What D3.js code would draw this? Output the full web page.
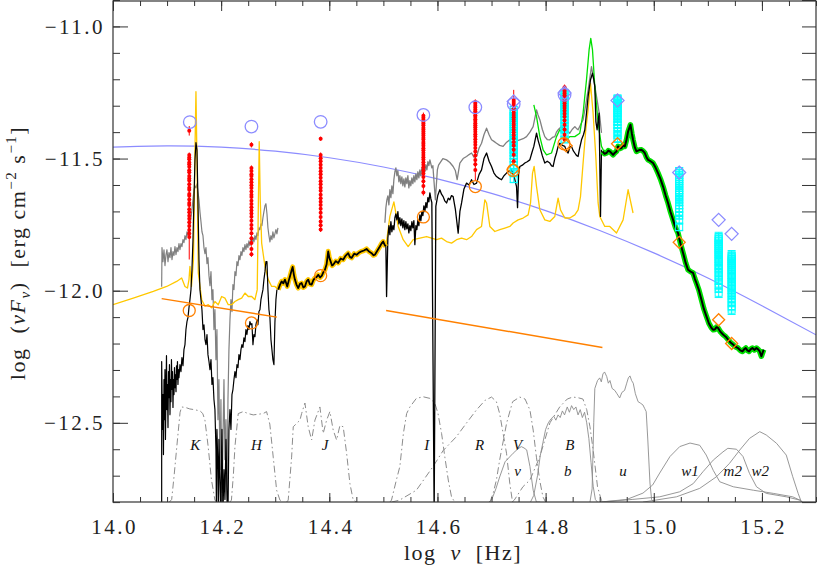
<!DOCTYPE html>
<html><head><meta charset="utf-8">
<script src="https://cdn.jsdelivr.net/npm/d3@7"></script>
<style>body{margin:0;background:#fff;}svg{display:block;}</style>
</head><body>
<svg id="c" width="817" height="568"></svg>
<script>
// ---------------- DATA ----------------
const xTickValues = [14.0,14.2,14.4,14.6,14.8,15.0,15.2];
const yTickValues = [-12.5,-12.0,-11.5,-11.0];

// log-parabola model (blue)
const blueModel = [[14.0,-11.457],[14.1,-11.452],[14.2,-11.457],[14.3,-11.472],[14.4,-11.497],[14.5,-11.532],[14.6,-11.577],[14.7,-11.632],[14.8,-11.697],[14.9,-11.772],[15.0,-11.857],[15.1,-11.952],[15.2,-12.057],[15.3,-12.167]];

// power-law fits (orange)
const orangeFitNIR = [[14.090,-12.030],[14.303,-12.100]];
const orangeFitOpt = [[14.505,-12.075],[14.905,-12.215]];

// NIR spectrum (grey)
const greyNIR = [[14.090,-11.985],[14.0906,-11.837],[14.0924,-11.890],[14.0943,-11.845],[14.0961,-11.905],[14.0980,-11.864],[14.0998,-11.845],[14.1017,-11.890],[14.1035,-11.856],[14.1054,-11.875],[14.1072,-11.837],[14.1091,-11.883],[14.1109,-11.852],[14.1128,-11.867],[14.1146,-11.833],[14.1165,-11.864],[14.1183,-11.837],[14.1201,-11.852],[14.1220,-11.822],[14.1238,-11.845],[14.1257,-11.822],[14.1275,-11.833],[14.1294,-11.807],[14.1312,-11.818],[14.1331,-11.792],[14.1349,-11.807],[14.1368,-11.777],[14.1386,-11.792],[14.1405,-11.762],[14.1423,-11.754],[14.1442,-11.724],[14.1460,-11.694],[14.1479,-11.656],[14.1497,-11.618],[14.1516,-11.603],[14.1534,-11.611],[14.1553,-11.596],[14.1571,-11.626],[14.1590,-11.656],[14.1608,-11.701],[14.1627,-11.739],[14.1645,-11.777],[14.1664,-11.792],[14.1682,-11.837],[14.1701,-11.860],[14.1719,-11.837],[14.1738,-11.898],[14.1756,-11.875],[14.1775,-11.943],[14.1793,-11.981],[14.1812,-11.928],[14.1830,-12.034],[14.1848,-11.996],[14.1867,-12.147],[14.1885,-12.072],[14.1904,-12.261],[14.1922,-12.147],[14.1941,-12.488],[14.1959,-12.336],[14.1978,-12.677],[14.1996,-12.412],[14.2015,-12.85],[14.2033,-12.563],[14.2052,-12.336],[14.2070,-12.639],[14.2089,-12.488],[14.2107,-12.85],[14.2126,-12.412],[14.2144,-12.223],[14.2163,-12.110],[14.2181,-12.034],[14.2200,-12.079],[14.2218,-11.977],[14.2237,-11.996],[14.2255,-11.928],[14.2274,-11.943],[14.2292,-11.890],[14.2311,-11.905],[14.2329,-11.867],[14.2348,-11.883],[14.2366,-11.852],[14.2384,-11.867],[14.2403,-11.837],[14.2421,-11.852],[14.2440,-11.826],[14.2458,-11.845],[14.2477,-11.822],[14.2495,-11.837],[14.2514,-11.811],[14.2532,-11.830],[14.2551,-11.807],[14.2569,-11.822],[14.2588,-11.800],[14.2606,-11.815],[14.2625,-11.792],[14.2643,-11.807],[14.2662,-11.781],[14.2680,-11.792],[14.2699,-11.762],[14.2717,-11.769],[14.2736,-11.747],[14.2754,-11.754],[14.2773,-11.724],[14.2791,-11.701],[14.2810,-11.679],[14.2828,-11.671],[14.2847,-11.709],[14.2865,-11.762],[14.2884,-11.792],[14.2902,-11.815],[14.2921,-11.792],[14.2939,-11.807],[14.2957,-11.777],[14.2976,-11.800],[14.2994,-11.785],[14.3013,-11.769],[14.3031,-11.785],[14.3050,-11.762]];

// NIR spectrum (black)
const blackNIR = [[14.090,-12.85],[14.090,-12.268],[14.0915,-12.525],[14.0924,-12.393],[14.0933,-12.620],[14.0943,-12.336],[14.0952,-12.488],[14.0961,-12.299],[14.0970,-12.563],[14.0980,-12.382],[14.0989,-12.246],[14.0998,-12.450],[14.1007,-12.355],[14.1017,-12.518],[14.1026,-12.306],[14.1035,-12.405],[14.1044,-12.280],[14.1054,-12.469],[14.1063,-12.336],[14.1072,-12.420],[14.1081,-12.261],[14.1091,-12.374],[14.1100,-12.306],[14.1109,-12.442],[14.1118,-12.336],[14.1128,-12.393],[14.1137,-12.291],[14.1146,-12.367],[14.1155,-12.318],[14.1165,-12.382],[14.1174,-12.284],[14.1183,-12.336],[14.1192,-12.268],[14.1201,-12.355],[14.1211,-12.299],[14.1220,-12.329],[14.1238,-12.280],[14.1257,-12.306],[14.1275,-12.253],[14.1294,-12.284],[14.1312,-12.223],[14.1331,-12.204],[14.1349,-12.147],[14.1368,-12.117],[14.1386,-12.102],[14.1405,-12.064],[14.1423,-12.034],[14.1442,-11.996],[14.1460,-11.921],[14.1479,-11.807],[14.1497,-11.656],[14.1516,-11.505],[14.1534,-11.440],[14.1553,-11.467],[14.1571,-11.656],[14.1590,-11.883],[14.1608,-11.996],[14.1627,-12.034],[14.1645,-12.072],[14.1664,-12.147],[14.1682,-12.129],[14.1701,-12.185],[14.1719,-12.204],[14.1738,-12.166],[14.1756,-12.242],[14.1775,-12.268],[14.1793,-12.299],[14.1812,-12.261],[14.1830,-12.355],[14.1848,-12.329],[14.1867,-12.412],[14.1885,-12.450],[14.1904,-12.601],[14.1913,-12.85],[14.1922,-12.525],[14.1941,-12.677],[14.1950,-12.85],[14.1959,-12.563],[14.1978,-12.715],[14.1996,-12.85],[14.2006,-12.639],[14.2015,-12.525],[14.2033,-12.85],[14.2052,-12.677],[14.2070,-12.790],[14.2089,-12.563],[14.2107,-12.752],[14.2126,-12.85],[14.2144,-12.525],[14.2163,-12.450],[14.2181,-12.525],[14.2200,-12.393],[14.2218,-12.374],[14.2237,-12.336],[14.2255,-12.306],[14.2274,-12.329],[14.2292,-12.280],[14.2311,-12.291],[14.2329,-12.242],[14.2348,-12.261],[14.2366,-12.223],[14.2384,-12.204],[14.2403,-12.215],[14.2421,-12.178],[14.2440,-12.193],[14.2458,-12.147],[14.2477,-12.166],[14.2495,-12.132],[14.2514,-12.147],[14.2532,-12.117],[14.2551,-12.129],[14.2569,-12.125],[14.2588,-12.204],[14.2606,-12.166],[14.2625,-12.174],[14.2643,-12.129],[14.2662,-12.110],[14.2680,-12.129],[14.2699,-12.079],[14.2717,-12.072],[14.2736,-12.034],[14.2754,-12.015],[14.2773,-11.996],[14.2791,-11.958],[14.2810,-11.928],[14.2828,-11.890],[14.2847,-11.890],[14.2865,-11.996],[14.2884,-12.072],[14.2902,-12.102],[14.2921,-12.185],[14.2939,-12.223],[14.2957,-12.261],[14.2976,-12.280],[14.2994,-12.121],[14.3013,-12.034],[14.3031,-11.996]];

// overlap segment between NIR and optical (black over yellow)
const bridgeSpec = [[14.3055,-11.996],[14.3087,-11.978],[14.3118,-11.965],[14.3150,-11.972],[14.3179,-11.958],[14.3200,-11.970],[14.3222,-11.984],[14.3250,-11.962],[14.3272,-11.946],[14.3300,-11.925],[14.3322,-11.910],[14.3345,-11.940],[14.3364,-11.958],[14.3395,-11.978],[14.3425,-11.990],[14.3455,-11.975],[14.3488,-11.971],[14.3520,-11.988],[14.3549,-11.984],[14.3580,-11.965],[14.3610,-11.958],[14.3640,-11.975],[14.3673,-11.977],[14.3705,-11.960],[14.3734,-11.952],[14.3765,-11.948],[14.3795,-11.940],[14.3830,-11.950],[14.3863,-11.943],[14.3890,-11.930],[14.3919,-11.921],[14.3950,-11.900],[14.3980,-11.851],[14.4000,-11.875],[14.4024,-11.889],[14.4050,-11.905],[14.4072,-11.902],[14.4120,-11.888],[14.4165,-11.895],[14.4210,-11.878],[14.4257,-11.883],[14.4300,-11.868],[14.4349,-11.858],[14.4380,-11.872],[14.4412,-11.876],[14.4460,-11.860],[14.4505,-11.864],[14.4550,-11.856],[14.4597,-11.851],[14.4640,-11.848],[14.4689,-11.842],[14.4735,-11.852],[14.4782,-11.858],[14.4815,-11.866],[14.4843,-11.864],[14.4890,-11.848],[14.4935,-11.833],[14.4965,-11.822],[14.4996,-11.814],[14.5020,-11.825],[14.5046,-11.833]];

// optical spectrum (black)
const blackOpt = [[14.5046,-11.833],[14.5059,-12.022],[14.5083,-11.800],[14.5102,-11.754],[14.5120,-11.788],[14.5139,-11.739],[14.5157,-11.777],[14.5176,-11.754],[14.5194,-11.769],[14.5213,-11.724],[14.5231,-11.709],[14.5250,-11.732],[14.5268,-11.701],[14.5287,-11.747],[14.5305,-11.724],[14.5323,-11.754],[14.5342,-11.728],[14.5360,-11.762],[14.5379,-11.735],[14.5397,-11.769],[14.5416,-11.739],[14.5434,-11.766],[14.5453,-11.747],[14.5471,-11.781],[14.5490,-11.754],[14.5508,-11.773],[14.5527,-11.739],[14.5545,-11.762],[14.5564,-11.735],[14.5582,-11.826],[14.5601,-11.754],[14.5619,-11.769],[14.5638,-11.732],[14.5656,-11.754],[14.5675,-11.713],[14.5693,-11.735],[14.5712,-11.701],[14.5730,-11.716],[14.5749,-11.679],[14.5767,-11.701],[14.5786,-11.667],[14.5804,-11.686],[14.5823,-11.648],[14.5841,-11.664],[14.5860,-11.630],[14.5878,-11.652],[14.5896,-11.667],[14.5939,-12.85],[14.5970,-11.681],[14.6005,-11.640],[14.6044,-11.618],[14.6075,-11.635],[14.6105,-11.644],[14.6135,-11.660],[14.6168,-11.668],[14.6200,-11.650],[14.6229,-11.656],[14.6260,-11.640],[14.6290,-11.644],[14.6330,-11.690],[14.6383,-11.782],[14.6415,-11.700],[14.6446,-11.668],[14.6490,-11.615],[14.6538,-11.593],[14.6585,-11.600],[14.6630,-11.580],[14.6675,-11.598],[14.6723,-11.593],[14.6770,-11.560],[14.6815,-11.543],[14.6860,-11.500],[14.6908,-11.479],[14.6955,-11.510],[14.7000,-11.530],[14.7045,-11.555],[14.7092,-11.568],[14.7140,-11.575],[14.7185,-11.580],[14.7230,-11.565],[14.7277,-11.555],[14.7320,-11.548],[14.7370,-11.543],[14.7420,-11.570],[14.7462,-11.606],[14.7481,-11.686],[14.7500,-11.560],[14.7523,-11.530],[14.7570,-11.525],[14.7616,-11.517],[14.7660,-11.512],[14.7708,-11.505],[14.7750,-11.475],[14.7782,-11.454],[14.7832,-11.404],[14.7860,-11.430],[14.7893,-11.454],[14.7940,-11.490],[14.7985,-11.517],[14.8030,-11.510],[14.8078,-11.517],[14.8110,-11.528],[14.8139,-11.530],[14.8170,-11.500],[14.8201,-11.479],[14.8230,-11.455],[14.8262,-11.442],[14.8310,-11.450],[14.8355,-11.454],[14.8385,-11.470],[14.8416,-11.479],[14.8450,-11.456],[14.8479,-11.454],[14.8510,-11.470],[14.8540,-11.479],[14.8570,-11.488],[14.8601,-11.492],[14.8630,-11.460],[14.8664,-11.429],[14.8700,-11.410],[14.8725,-11.391],[14.8760,-11.320],[14.8786,-11.265],[14.8830,-11.202],[14.8867,-11.177],[14.8890,-11.200],[14.8910,-11.228],[14.8930,-11.360],[14.8952,-11.391],[14.8989,-11.328],[14.9015,-11.719],[14.9033,-11.467]];

// optical spectrum (grey)
const greyOpt = [[14.5028,-11.743],[14.5046,-11.686],[14.5065,-11.656],[14.5083,-11.641],[14.5102,-11.675],[14.5120,-11.618],[14.5139,-11.648],[14.5157,-11.603],[14.5176,-11.633],[14.5194,-11.580],[14.5213,-11.550],[14.5231,-11.535],[14.5250,-11.565],[14.5268,-11.546],[14.5287,-11.588],[14.5305,-11.565],[14.5323,-11.595],[14.5342,-11.569],[14.5360,-11.603],[14.5379,-11.577],[14.5397,-11.607],[14.5416,-11.573],[14.5434,-11.595],[14.5453,-11.565],[14.5471,-11.611],[14.5490,-11.584],[14.5508,-11.603],[14.5527,-11.573],[14.5545,-11.595],[14.5564,-11.565],[14.5582,-11.588],[14.5601,-11.558],[14.5619,-11.580],[14.5638,-11.550],[14.5656,-11.573],[14.5675,-11.543],[14.5693,-11.565],[14.5712,-11.535],[14.5730,-11.558],[14.5749,-11.527],[14.5767,-11.550],[14.5786,-11.524],[14.5804,-11.543],[14.5823,-11.512],[14.5841,-11.527],[14.5860,-11.505],[14.5878,-11.520],[14.5896,-11.535],[14.5915,-11.527],[14.5961,-11.656],[14.5998,-11.543],[14.6020,-11.525],[14.6044,-11.517],[14.6100,-11.500],[14.6168,-11.505],[14.6230,-11.515],[14.6290,-11.530],[14.6330,-11.545],[14.6364,-11.580],[14.6414,-11.517],[14.6475,-11.500],[14.6538,-11.492],[14.6585,-11.485],[14.6630,-11.479],[14.6675,-11.495],[14.6723,-11.492],[14.6770,-11.460],[14.6815,-11.442],[14.6860,-11.410],[14.6908,-11.385],[14.6955,-11.410],[14.7000,-11.429],[14.7045,-11.435],[14.7092,-11.442],[14.7150,-11.450],[14.7214,-11.454],[14.7280,-11.438],[14.7338,-11.429],[14.7385,-11.445],[14.7431,-11.442],[14.7480,-11.432],[14.7523,-11.429],[14.7585,-11.425],[14.7647,-11.417],[14.7710,-11.400],[14.7769,-11.379],[14.7832,-11.316],[14.7860,-11.335],[14.7893,-11.353],[14.7940,-11.390],[14.7985,-11.417],[14.8030,-11.428],[14.8078,-11.429],[14.8125,-11.420],[14.8170,-11.417],[14.8200,-11.400],[14.8231,-11.391],[14.8260,-11.385],[14.8294,-11.379],[14.8340,-11.388],[14.8386,-11.391],[14.8420,-11.398],[14.8447,-11.404],[14.8490,-11.390],[14.8540,-11.379],[14.8570,-11.386],[14.8601,-11.391],[14.8650,-11.370],[14.8693,-11.353],[14.8740,-11.300],[14.8786,-11.240],[14.8848,-11.152],[14.8891,-11.202],[14.8941,-11.265],[14.9002,-11.341],[14.9033,-11.403]];

// optical spectrum (green)
const greenOpt = [[14.7782,-11.297],[14.7832,-11.341],[14.7893,-11.417],[14.7954,-11.467],[14.8017,-11.486],[14.8109,-11.479],[14.8201,-11.417],[14.8262,-11.391],[14.8323,-11.404],[14.8386,-11.429],[14.8447,-11.417],[14.8540,-11.417],[14.8632,-11.404],[14.8693,-11.328],[14.8756,-11.202],[14.8804,-11.089],[14.8835,-11.045],[14.8867,-11.089],[14.8910,-11.228],[14.8971,-11.366],[14.9033,-11.454],[14.9094,-11.479]];

// UV grism spectrum (black over green)
const uvSpec = [[14.9052,-11.473],[14.9090,-11.482],[14.9126,-11.479],[14.9160,-11.470],[14.9187,-11.473],[14.9220,-11.480],[14.9248,-11.486],[14.9280,-11.478],[14.9311,-11.473],[14.9340,-11.454],[14.9370,-11.462],[14.9403,-11.460],[14.9430,-11.450],[14.9464,-11.454],[14.9495,-11.430],[14.9525,-11.398],[14.9569,-11.372],[14.9595,-11.405],[14.9617,-11.429],[14.9650,-11.458],[14.9680,-11.473],[14.9730,-11.468],[14.9773,-11.467],[14.9805,-11.472],[14.9834,-11.479],[14.9865,-11.495],[14.9895,-11.505],[14.9940,-11.510],[14.9987,-11.517],[15.0035,-11.535],[15.0079,-11.555],[15.0125,-11.578],[15.0172,-11.606],[15.0220,-11.640],[15.0264,-11.668],[15.0310,-11.702],[15.0357,-11.732],[15.0400,-11.760],[15.0449,-11.782],[15.0495,-11.822],[15.0542,-11.857],[15.0590,-11.895],[15.0634,-11.921],[15.0680,-11.928],[15.0727,-11.933],[15.0760,-11.955],[15.0789,-11.971],[15.0835,-11.998],[15.0882,-12.034],[15.0925,-12.068],[15.0974,-12.097],[15.1020,-12.124],[15.1067,-12.141],[15.1100,-12.148],[15.1128,-12.147],[15.1160,-12.138],[15.1189,-12.141],[15.1235,-12.156],[15.1281,-12.166],[15.1330,-12.174],[15.1374,-12.185],[15.1420,-12.196],[15.1466,-12.204],[15.1510,-12.212],[15.1558,-12.217],[15.1600,-12.226],[15.1640,-12.230],[15.1670,-12.222],[15.1701,-12.217],[15.1730,-12.226],[15.1762,-12.230],[15.1790,-12.222],[15.1824,-12.217],[15.1860,-12.224],[15.1898,-12.217],[15.1930,-12.222],[15.1959,-12.230],[15.1990,-12.248],[15.2033,-12.223]];

// galaxy + emission line template (yellow)
const templateNIR = [[14.0,-12.053],[14.0375,-12.028],[14.0745,-12.003],[14.0993,-11.984],[14.1177,-11.965],[14.1270,-11.952],[14.1331,-11.984],[14.1377,-11.990],[14.1405,-11.958],[14.1423,-11.908],[14.1451,-11.984],[14.1488,-11.883],[14.1516,-11.467],[14.1534,-11.247],[14.1553,-11.505],[14.1577,-11.933],[14.1640,-12.034],[14.1701,-12.059],[14.1762,-12.053],[14.1824,-12.065],[14.1885,-12.041],[14.1946,-12.053],[14.2009,-12.022],[14.2070,-12.028],[14.2131,-12.053],[14.2194,-12.053],[14.2255,-12.041],[14.2316,-12.034],[14.2379,-12.028],[14.2440,-12.009],[14.2501,-12.022],[14.2564,-12.022],[14.2625,-12.034],[14.2667,-11.996],[14.2689,-11.656],[14.2704,-11.436],[14.2723,-11.656],[14.2749,-11.820],[14.2810,-11.908],[14.2871,-11.958],[14.2934,-11.984],[14.2994,-11.984],[14.3055,-11.996]];
const templateOpt = [[14.5046,-11.833],[14.5120,-11.719],[14.5194,-11.664],[14.5274,-11.757],[14.5366,-11.807],[14.5458,-11.833],[14.5551,-11.807],[14.5675,-11.801],[14.5799,-11.795],[14.5891,-11.801],[14.5983,-11.807],[14.6076,-11.801],[14.6168,-11.814],[14.6261,-11.820],[14.6353,-11.807],[14.6446,-11.801],[14.6538,-11.807],[14.6630,-11.795],[14.6723,-11.769],[14.6815,-11.757],[14.6876,-11.656],[14.6908,-11.668],[14.6969,-11.757],[14.7061,-11.776],[14.7153,-11.769],[14.7246,-11.763],[14.7338,-11.757],[14.7399,-11.744],[14.7492,-11.732],[14.7584,-11.725],[14.7677,-11.713],[14.7721,-11.668],[14.7758,-11.555],[14.7788,-11.530],[14.7832,-11.606],[14.7893,-11.694],[14.7985,-11.732],[14.8078,-11.738],[14.8170,-11.719],[14.8231,-11.650],[14.8275,-11.694],[14.8355,-11.725],[14.8447,-11.725],[14.8540,-11.713],[14.8601,-11.694],[14.8645,-11.644],[14.8693,-11.517],[14.8743,-11.391],[14.8786,-11.316],[14.8830,-11.215],[14.8878,-11.328],[14.8928,-11.492],[14.8971,-11.668],[14.9002,-11.719],[14.9094,-11.757],[14.9187,-11.757],[14.9311,-11.782],[14.9433,-11.732],[14.9525,-11.618],[14.9617,-11.706]];

// photometry: red (optical/NIR), pairs [flux, error]
const redNu = [14.141,14.256,14.384,14.574,14.670,14.741,14.835];
const redK = [[-11.395,0.018],[-11.487,0.01],[-11.496,0.01],[-11.503,0.01],[-11.515,0.01],[-11.522,0.01],[-11.531,0.01],[-11.544,0.01],[-11.552,0.01],[-11.566,0.01],[-11.575,0.01],[-11.583,0.01],[-11.597,0.01],[-11.610,0.01],[-11.618,0.01],[-11.634,0.01],[-11.641,0.01],[-11.655,0.01],[-11.668,0.01],[-11.676,0.01],[-11.692,0.01],[-11.703,0.01],[-11.716,0.01],[-11.728,0.01],[-11.741,0.01],[-11.755,0.01],[-11.770,0.01],[-11.784,0.01],[-11.797,0.085]];
const redH = [[-11.448,0.01],[-11.536,0.01],[-11.547,0.01],[-11.559,0.01],[-11.566,0.01],[-11.578,0.01],[-11.590,0.01],[-11.601,0.01],[-11.611,0.01],[-11.625,0.01],[-11.637,0.01],[-11.645,0.01],[-11.660,0.01],[-11.672,0.01],[-11.684,0.01],[-11.697,0.01],[-11.708,0.01],[-11.720,0.01],[-11.735,0.01],[-11.751,0.01],[-11.766,0.01],[-11.783,0.01],[-11.802,0.01],[-11.820,0.01],[-11.842,0.01],[-11.862,0.01]];
const redJ = [[-11.425,0.008],[-11.487,0.01],[-11.499,0.01],[-11.510,0.01],[-11.523,0.01],[-11.536,0.01],[-11.548,0.01],[-11.559,0.01],[-11.573,0.01],[-11.586,0.01],[-11.597,0.01],[-11.610,0.01],[-11.622,0.01],[-11.637,0.01],[-11.650,0.01],[-11.663,0.01],[-11.676,0.01],[-11.690,0.01],[-11.705,0.01],[-11.721,0.01],[-11.738,0.01],[-11.752,0.01],[-11.768,0.01]];
const redI = [[-11.338,0.012],[-11.346,0.012],[-11.353,0.012],[-11.361,0.012],[-11.367,0.012],[-11.374,0.012],[-11.383,0.012],[-11.390,0.012],[-11.398,0.012],[-11.405,0.012],[-11.413,0.012],[-11.421,0.012],[-11.428,0.012],[-11.437,0.012],[-11.444,0.012],[-11.452,0.012],[-11.461,0.012],[-11.469,0.012],[-11.478,0.012],[-11.487,0.012],[-11.495,0.012],[-11.504,0.012],[-11.514,0.012],[-11.523,0.012],[-11.533,0.012],[-11.545,0.012],[-11.557,0.012],[-11.570,0.012],[-11.586,0.012],[-11.604,0.012],[-11.628,0.012]];
const redR = [[-11.286,0.01],[-11.293,0.01],[-11.300,0.01],[-11.307,0.01],[-11.314,0.01],[-11.321,0.01],[-11.328,0.01],[-11.336,0.01],[-11.343,0.01],[-11.351,0.01],[-11.358,0.01],[-11.366,0.01],[-11.374,0.01],[-11.382,0.01],[-11.390,0.01],[-11.399,0.01],[-11.408,0.01],[-11.417,0.01],[-11.427,0.01],[-11.437,0.01],[-11.448,0.01],[-11.460,0.01],[-11.473,0.01],[-11.488,0.01],[-11.505,0.01],[-11.522,0.01],[-11.543,0.04]];
const redV = [[-11.278,0.038],[-11.286,0.01],[-11.294,0.01],[-11.302,0.01],[-11.310,0.01],[-11.318,0.01],[-11.327,0.01],[-11.335,0.01],[-11.344,0.01],[-11.353,0.01],[-11.362,0.01],[-11.371,0.01],[-11.381,0.01],[-11.391,0.01],[-11.401,0.01],[-11.412,0.01],[-11.424,0.01],[-11.437,0.01],[-11.451,0.01],[-11.467,0.01],[-11.486,0.01],[-11.510,0.01]];
const redB = [[-11.230,0.01],[-11.236,0.01],[-11.242,0.01],[-11.248,0.01],[-11.254,0.01],[-11.260,0.01],[-11.267,0.01],[-11.275,0.01],[-11.283,0.01],[-11.291,0.01],[-11.300,0.01],[-11.309,0.01],[-11.319,0.01],[-11.330,0.01],[-11.342,0.01],[-11.356,0.01],[-11.372,0.01],[-11.390,0.01],[-11.410,0.01],[-11.428,0.01]];

// photometry: cyan (UVOT), flux values
const cyanNu = [14.741,14.835,14.933,15.047,15.120,15.144];
const cyanErr = [0.012,0.010,0.010,0.012,0.018,0.018];
const cyanV = [-11.316,-11.324,-11.331,-11.339,-11.346,-11.355,-11.362,-11.371,-11.379,-11.388,-11.396,-11.405,-11.413,-11.422,-11.431,-11.440,-11.449,-11.459,-11.468,-11.478,-11.489,-11.500,-11.512,-11.525,-11.539,-11.556,-11.578];
const cyanB = [-11.251,-11.258,-11.266,-11.273,-11.281,-11.289,-11.296,-11.305,-11.313,-11.322,-11.331,-11.341,-11.352,-11.364,-11.377,-11.391,-11.408,-11.428];
const cyanU = [-11.272,-11.278,-11.284,-11.290,-11.296,-11.303,-11.310,-11.317,-11.325,-11.333,-11.342,-11.351,-11.361,-11.372,-11.384,-11.397,-11.412,-11.426];
const cyanW1 = [-11.547,-11.555,-11.563,-11.571,-11.579,-11.587,-11.595,-11.603,-11.611,-11.620,-11.628,-11.637,-11.646,-11.656,-11.666,-11.677,-11.689,-11.702,-11.716,-11.732,-11.760];
const cyanM2 = [-11.797,-11.804,-11.811,-11.818,-11.826,-11.833,-11.841,-11.849,-11.857,-11.865,-11.874,-11.883,-11.892,-11.902,-11.912,-11.923,-11.934,-11.946,-11.959,-11.973,-11.989,-12.008];
const cyanW2 = [-11.866,-11.873,-11.880,-11.888,-11.895,-11.903,-11.911,-11.919,-11.927,-11.936,-11.944,-11.953,-11.962,-11.972,-11.982,-11.993,-12.004,-12.016,-12.029,-12.043,-12.058,-12.072];

// other photometric points
const blueCircles = [[14.142,-11.362],[14.256,-11.379],[14.384,-11.361],[14.574,-11.335],[14.670,-11.306],[14.741,-11.294],[14.835,-11.259]];
const blueDiamonds = [[14.741,-11.284],[14.835,-11.252],[14.933,-11.280],[15.047,-11.553],[15.120,-11.732],[15.144,-11.785]];
const orangeCircles = [[14.141,-12.075],[14.256,-12.122],[14.384,-11.943],[14.574,-11.721],[14.670,-11.606],[14.740,-11.545],[14.834,-11.444]];
const orangeDiamonds = [[14.740,-11.540],[14.838,-11.452],[14.933,-11.444],[15.047,-11.817],[15.120,-12.110],[15.144,-12.200]];

// filter transmission curves [log nu, relative transmission]
const filtK = [[14.104,0],[14.1085,0.02],[14.113,0.2],[14.118,0.42],[14.124,0.68],[14.127,0.72],[14.135,0.715],[14.142,0.705],[14.150,0.70],[14.161,0.69],[14.166,0.67],[14.170,0.62],[14.176,0.42],[14.182,0.17],[14.1885,0.015],[14.192,0]];
const filtH = [[14.216,0],[14.219,0.015],[14.2225,0.2],[14.2255,0.42],[14.2316,0.67],[14.2409,0.685],[14.250,0.67],[14.2593,0.66],[14.2778,0.67],[14.284,0.685],[14.290,0.59],[14.2963,0.34],[14.3026,0.09],[14.3087,0.015],[14.315,0]];
const filtJ = [[14.321,0],[14.324,0.015],[14.3303,0.34],[14.3333,0.57],[14.3395,0.595],[14.3457,0.62],[14.3488,0.67],[14.3549,0.75],[14.361,0.57],[14.3673,0.47],[14.3734,0.62],[14.3826,0.72],[14.3887,0.52],[14.395,0.62],[14.4011,0.685],[14.4072,0.545],[14.4135,0.47],[14.4196,0.58],[14.4257,0.57],[14.432,0.37],[14.4381,0.14],[14.4442,0.015],[14.4505,0]];
const filtI = [[14.512,0],[14.515,0.015],[14.524,0.167],[14.5305,0.27],[14.537,0.52],[14.543,0.67],[14.549,0.72],[14.561,0.785],[14.5736,0.797],[14.586,0.785],[14.595,0.75],[14.601,0.67],[14.6076,0.52],[14.6137,0.34],[14.62,0.167],[14.626,0.04],[14.632,0]];
const filtR = [[14.515,0],[14.53,0.015],[14.561,0.09],[14.592,0.27],[14.6105,0.39],[14.635,0.495],[14.654,0.6],[14.672,0.697],[14.688,0.77],[14.700,0.795],[14.709,0.76],[14.715,0.67],[14.7214,0.52],[14.7277,0.37],[14.7338,0.14],[14.7388,0]];
const filtV = [[14.697,0],[14.703,0.066],[14.709,0.167],[14.715,0.318],[14.728,0.6],[14.739,0.76],[14.752,0.795],[14.762,0.78],[14.771,0.697],[14.777,0.545],[14.783,0.34],[14.789,0.167],[14.795,0.04],[14.80,0]];
const filtB = [[14.738,0],[14.742,0.015],[14.758,0.116],[14.771,0.167],[14.789,0.34],[14.808,0.6],[14.826,0.72],[14.840,0.78],[14.850,0.795],[14.860,0.79],[14.869,0.78],[14.876,0.7],[14.882,0.57],[14.888,0.39],[14.896,0.116],[14.903,0.015],[14.906,0]];
const uvotV = [[14.695,0],[14.700,0.015],[14.708,0.1],[14.715,0.19],[14.725,0.305],[14.740,0.37],[14.748,0.4],[14.755,0.42],[14.760,0.41],[14.765,0.395],[14.771,0.27],[14.777,0.09],[14.783,0],[14.79,0]];
const uvotB = [[14.772,0],[14.778,0.05],[14.785,0.2],[14.790,0.35],[14.795,0.45],[14.800,0.55],[14.805,0.6],[14.810,0.63],[14.815,0.65],[14.819,0.62],[14.823,0.66],[14.827,0.64],[14.831,0.69],[14.835,0.66],[14.840,0.72],[14.844,0.68],[14.848,0.73],[14.852,0.70],[14.856,0.72],[14.860,0.66],[14.864,0.70],[14.868,0.64],[14.872,0.68],[14.876,0.60],[14.880,0.48],[14.884,0.30],[14.888,0.12],[14.892,0.02],[14.896,0]];
const uvotU = [[14.882,0],[14.886,0.1],[14.889,0.6],[14.891,0.86],[14.896,0.92],[14.900,0.94],[14.903,0.91],[14.906,0.97],[14.909,0.985],[14.913,0.95],[14.916,0.9],[14.919,0.92],[14.923,0.86],[14.928,0.845],[14.932,0.82],[14.937,0.788],[14.941,0.83],[14.946,0.845],[14.950,0.9],[14.953,0.94],[14.956,0.955],[14.959,0.92],[14.962,0.9],[14.966,0.82],[14.971,0.76],[14.975,0.75],[14.980,0.735],[14.983,0.71],[14.986,0.685],[14.989,0.47],[14.993,0.144],[14.996,0.02],[15.00,0]];
const uvotW1 = [[14.90,0],[14.95,0.02],[14.980,0.068],[14.998,0.13],[15.011,0.22],[15.030,0.345],[15.048,0.42],[15.067,0.447],[15.085,0.43],[15.097,0.356],[15.110,0.24],[15.122,0.154],[15.147,0.116],[15.184,0.09],[15.221,0.066],[15.257,0.04],[15.270,0.015],[15.275,0]];
const uvotM2 = [[14.90,0],[14.96,0.02],[15.011,0.04],[15.048,0.078],[15.073,0.14],[15.091,0.23],[15.110,0.318],[15.128,0.38],[15.137,0.407],[15.153,0.40],[15.165,0.345],[15.177,0.217],[15.190,0.116],[15.208,0.066],[15.245,0.04],[15.270,0.015],[15.275,0]];
const uvotW2 = [[14.980,0],[15.042,0.04],[15.085,0.104],[15.116,0.192],[15.140,0.293],[15.159,0.394],[15.177,0.482],[15.196,0.533],[15.208,0.508],[15.227,0.445],[15.245,0.356],[15.257,0.192],[15.267,0.066],[15.273,0]];

const bandNames = ["K","H","J","I","R","V","B"];
const bandCenters = [14.152,14.265,14.392,14.580,14.678,14.748,14.845];
const uvotNames = ["v","b","u","w1","m2","w2"];
const uvotCenters = [14.748,14.841,14.943,15.067,15.146,15.197];

// ---------------- DRAWING ----------------
const L=113, R=816, T=1, B=502;
const svg = d3.select("#c");
const x = d3.scaleLinear().domain([14.0,15.3]).range([L,R]);
const y = d3.scaleLinear().domain([-12.8,-10.9]).range([502.1,0]);
const tY = d3.scaleLinear().domain([0,1]).range([y(-12.8), y(-12.3)]);

svg.append("defs").append("clipPath").attr("id","pc")
  .append("rect").attr("x",L).attr("y",T).attr("width",R-L).attr("height",B-T);
const g = svg.append("g").attr("clip-path","url(#pc)");

const line = d3.line().x(d=>x(d[0])).y(d=>y(d[1]));
const fline = d3.line().x(d=>x(d[0])).y(d=>tY(d[1]));

// filters
[filtK,filtH,filtJ,filtI,filtR,filtV,filtB].forEach(f=>{
  g.append("path").attr("d",fline(f)).attr("fill","none").attr("stroke","#8c8c8c")
   .attr("stroke-width",1).attr("stroke-dasharray","7,3,1.5,3");
});
[uvotV,uvotB,uvotU,uvotW1,uvotM2,uvotW2].forEach(f=>{
  g.append("path").attr("d",fline(f)).attr("fill","none").attr("stroke","#8c8c8c").attr("stroke-width",0.9);
});
const fontSerif = "'Liberation Serif','DejaVu Serif',serif";
bandNames.forEach((n,i)=>{
  g.append("text").attr("x",x(bandCenters[i])).attr("y",y(-12.601)).attr("text-anchor","middle")
   .attr("font-family",fontSerif).attr("font-style","italic").attr("font-size",15).attr("fill","#111").text(n);
});
uvotNames.forEach((n,i)=>{
  g.append("text").attr("x",x(uvotCenters[i])).attr("y",y(-12.702)).attr("text-anchor","middle")
   .attr("font-family",fontSerif).attr("font-style","italic").attr("font-size",15).attr("fill","#111").text(n);
});

// model
g.append("path").attr("d",d3.line().curve(d3.curveNatural).x(d=>x(d[0])).y(d=>y(d[1]))(blueModel))
 .attr("fill","none").attr("stroke","#8c8cff").attr("stroke-width",1.2);

// spectra
function path(data,color,w){ g.append("path").attr("d",line(data)).attr("fill","none").attr("stroke",color).attr("stroke-width",w).attr("stroke-linejoin","round"); }
path(greyNIR,"#808080",1.2);
path(greyOpt,"#808080",1.3);
path(templateNIR,"#ffc800",1.3);
path(blackNIR,"#000",1.2);
path(greenOpt,"#00e000",1.3);
path(templateOpt,"#ffc800",1.3);
path(blackOpt,"#000",1.3);
path(bridgeSpec,"#ffc800",5);
path(bridgeSpec,"#000",1.8);
path(uvSpec,"#00e000",5.5);
path(uvSpec,"#000",2);

// power-law fits
path(orangeFitNIR,"#ff8000",1.5);
path(orangeFitOpt,"#ff8000",1.5);

// cyan photometry
[cyanV,cyanB,cyanU,cyanW1,cyanM2,cyanW2].forEach((set,i)=>{
  const cx = x(cyanNu[i]), e = cyanErr[i];
  const gg = g.append("g");
  set.forEach(v=>{
    gg.append("line").attr("x1",cx).attr("x2",cx).attr("y1",y(v+e)).attr("y2",y(v-e)).attr("stroke","#00ffff").attr("stroke-width",1);
    gg.append("line").attr("x1",cx-4).attr("x2",cx+4).attr("y1",y(v+e)).attr("y2",y(v+e)).attr("stroke","#00ffff").attr("stroke-width",1);
    gg.append("line").attr("x1",cx-4).attr("x2",cx+4).attr("y1",y(v-e)).attr("y2",y(v-e)).attr("stroke","#00ffff").attr("stroke-width",1);
    gg.append("rect").attr("x",cx-3.5).attr("y",y(v)-3.5).attr("width",7).attr("height",7)
      .attr("fill","none").attr("stroke","#00ffff").attr("stroke-width",1);
  });
});

// red photometry
[redK,redH,redJ,redI,redR,redV,redB].forEach((set,i)=>{
  const cx = x(redNu[i]);
  set.forEach(([v,e])=>{
    g.append("line").attr("x1",cx).attr("x2",cx).attr("y1",y(v+e)).attr("y2",y(v-e)).attr("stroke","#ff0000").attr("stroke-width",1);
    g.append("circle").attr("cx",cx).attr("cy",y(v)).attr("r",2).attr("fill","#ff0000");
  });
});

// circles and diamonds
const diamond = (cx,cy,s)=>`M${cx},${cy-s}L${cx+s},${cy}L${cx},${cy+s}L${cx-s},${cy}Z`;
blueCircles.forEach(d=>g.append("circle").attr("cx",x(d[0])).attr("cy",y(d[1])).attr("r",6.3).attr("fill","none").attr("stroke","#8c8cff").attr("stroke-width",1.3));
blueDiamonds.forEach(d=>g.append("path").attr("d",diamond(x(d[0]),y(d[1]),6.5)).attr("fill","none").attr("stroke","#8c8cff").attr("stroke-width",1.3));
orangeCircles.forEach(d=>g.append("circle").attr("cx",x(d[0])).attr("cy",y(d[1])).attr("r",6).attr("fill","none").attr("stroke","#ff8000").attr("stroke-width",1.3));
orangeDiamonds.forEach(d=>g.append("path").attr("d",diamond(x(d[0]),y(d[1]),6)).attr("fill","none").attr("stroke","#ff8000").attr("stroke-width",1.3));

// ---------------- AXES ----------------
const tickCol = "#333";
function tickAxis(gen, tr, vals, len){
  svg.append("g").attr("transform",tr)
    .call(gen.tickValues(vals).tickSize(-len).tickFormat(""))
    .call(s=>{ s.select(".domain").remove(); s.selectAll("line").attr("stroke",tickCol); });
}
const xMinor = d3.range(0,27).map(i=>14.0+i*0.05);
const yMinor = d3.range(0,20).map(i=>-12.8+i*0.1);
tickAxis(d3.axisBottom(x), `translate(0,${B})`, xMinor, 5);
tickAxis(d3.axisBottom(x), `translate(0,${B})`, xTickValues, 9);
tickAxis(d3.axisTop(x), `translate(0,${T})`, xMinor, 5);
tickAxis(d3.axisTop(x), `translate(0,${T})`, xTickValues, 10);
tickAxis(d3.axisLeft(y), `translate(${L},0)`, yMinor, 7);
tickAxis(d3.axisLeft(y), `translate(${L},0)`, yTickValues, 15);
tickAxis(d3.axisRight(y), `translate(${R},0)`, yMinor, 14);

svg.append("rect").attr("x",L).attr("y",T).attr("width",R-L).attr("height",B-T)
  .attr("fill","none").attr("stroke",tickCol).attr("stroke-width",1.2);

// labels
const fmt = d3.format(".1f");
svg.append("g").attr("transform",`translate(0,${B})`)
  .call(d3.axisBottom(x).tickValues(xTickValues).tickSize(0).tickPadding(17).tickFormat(fmt))
  .call(s=>{ s.select(".domain").remove();
    s.selectAll("text").attr("font-family",fontSerif).attr("font-size",21).attr("fill","#222")
     .attr("letter-spacing","2.5px").attr("dx","1.2px"); });
svg.append("g").attr("transform",`translate(${L},0)`)
  .call(d3.axisLeft(y).tickValues(yTickValues).tickSize(0).tickPadding(8).tickFormat(fmt))
  .call(s=>{ s.select(".domain").remove();
    s.selectAll("text").attr("font-family",fontSerif).attr("font-size",21).attr("fill","#222")
     .attr("letter-spacing","2.5px"); });

// x title
const xt = svg.append("text").attr("x",463).attr("y",560).attr("text-anchor","middle")
  .attr("font-family",fontSerif).attr("font-size",22).attr("fill","#222").attr("letter-spacing","1.5px")
  .style("white-space","pre");
xt.append("tspan").text("log  ");
xt.append("tspan").attr("font-style","italic").text("ν");
xt.append("tspan").text("  [Hz]");

// y title
const yt = svg.append("text").attr("transform","translate(25,253) rotate(-90)").attr("text-anchor","middle")
  .attr("font-family",fontSerif).attr("font-size",22).attr("fill","#222").attr("letter-spacing","1.5px")
  .style("white-space","pre");
yt.append("tspan").text("log  (");
yt.append("tspan").attr("font-style","italic").text("νF");
yt.append("tspan").attr("font-style","italic").attr("font-size",15).attr("dy",5).text("ν");
yt.append("tspan").attr("dy",-5).text(")  [erg cm");
yt.append("tspan").attr("font-size",15).attr("dy",-9).text("−2");
yt.append("tspan").attr("dy",9).text(" s");
yt.append("tspan").attr("font-size",15).attr("dy",-9).text("−1");
yt.append("tspan").attr("dy",9).text("]");
</script>
</body></html>
